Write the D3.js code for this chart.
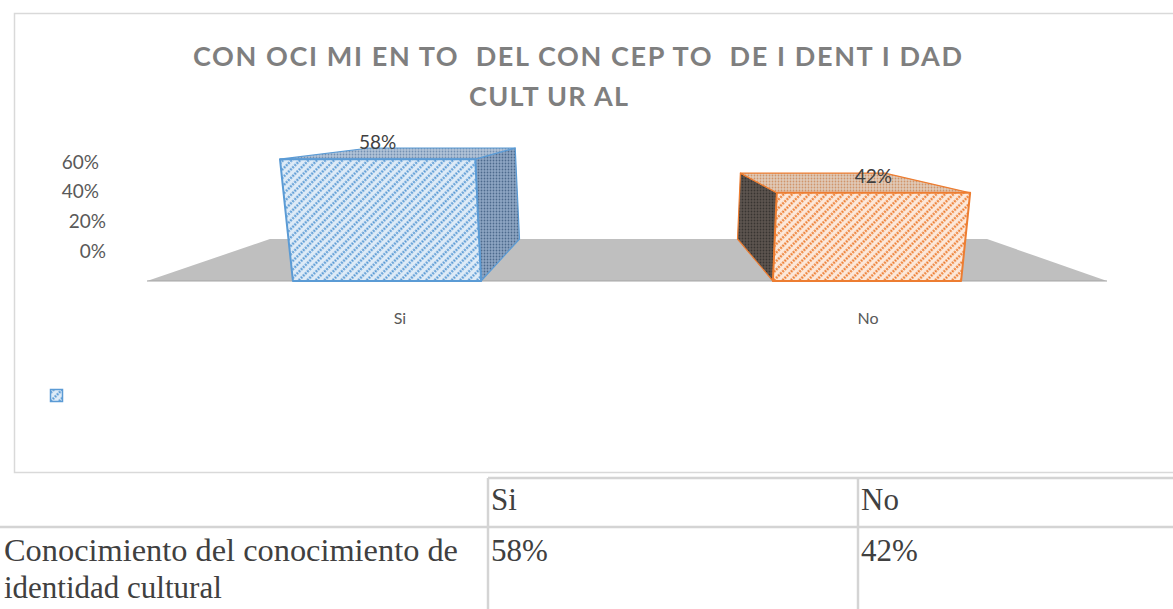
<!DOCTYPE html>
<html>
<head>
<meta charset="utf-8">
<title>Conocimiento del concepto de identidad cultural</title>
<script src="https://cdn.jsdelivr.net/npm/d3@7"></script>
<style>
  body { margin: 0; background: #fff; }
  svg { display: block; }
  .title { font-family: Lato, "Open Sans", sans-serif; font-weight: bold; fill: #7f7f7f; white-space: pre; }
  .lbl { font-family: Lato, "Open Sans", sans-serif; fill: #595959; }
  .val { font-family: Lato, "Open Sans", sans-serif; fill: #404040; }
  .tbl { font-family: "Liberation Serif", "Times New Roman", serif; fill: #404040; }
</style>
</head>
<body>
<svg width="1173" height="609"></svg>
<script>
// datos
var categories = ["Si", "No"];
var values = [0.58, 0.42];
var valueLabels = ["58%", "42%"];
var yTicks = [0, 0.2, 0.4, 0.6];
var titleLines = ["CON OCI MI EN TO  DEL CON CEP TO  DE I DENT I DAD", "CULT UR AL"];
var tableHeader = ["", "Si", "No"];
var rowLabel = ["Conocimiento del conocimiento de", "identidad cultural"];
var rowValues = ["58%", "42%"];

var svg = d3.select("svg");
var defs = svg.append("defs");

// patrones de relleno
function stripes(id, bg, fg) {
  var p = defs.append("pattern").attr("id", id)
    .attr("patternUnits", "userSpaceOnUse")
    .attr("width", 6).attr("height", 6)
    .attr("patternTransform", "rotate(45)");
  p.append("rect").attr("width", 6).attr("height", 6).attr("fill", bg);
  p.append("line").attr("x1", 1.5).attr("y1", 0).attr("x2", 1.5).attr("y2", 6)
    .attr("stroke", fg).attr("stroke-width", 2.2).attr("stroke-dasharray", "2 1");
}
function dots(id, bg, fg) {
  var p = defs.append("pattern").attr("id", id)
    .attr("patternUnits", "userSpaceOnUse")
    .attr("width", 3).attr("height", 3);
  p.append("rect").attr("width", 3).attr("height", 3).attr("fill", bg);
  p.append("circle").attr("cx", 1.5).attr("cy", 1.5).attr("r", 0.9).attr("fill", fg);
}
stripes("blueFront", "#deebf7", "#5b9bd5");
stripes("orangeFront", "#fce8da", "#ed7d31");
dots("blueSide", "#8ea6c3", "#4d6a8d");
dots("blueTop", "#b2c3d8", "#7490b1");
dots("orangeSide", "#5d5550", "#383431");
dots("orangeTop", "#e0cbb9", "#d0946a");

var styles = {
  Si: {front: "url(#blueFront)", side: "url(#blueSide)", top: "url(#blueTop)", line: "#5b9bd5"},
  No: {front: "url(#orangeFront)", side: "url(#orangeSide)", top: "url(#orangeTop)", line: "#ed7d31"}
};

// marco del grafico
svg.append("rect").attr("x", 14.5).attr("y", 13.5).attr("width", 1200).attr("height", 459)
  .attr("fill", "#fff").attr("stroke", "#d9d9d9").attr("stroke-width", 1.5);

// titulo
svg.selectAll(".title").data(titleLines).enter().append("text")
  .attr("class", "title")
  .attr("x", function(d, i) { return i === 0 ? 193 : 469; })
  .attr("y", function(d, i) { return 57 + i * 40; })
  .attr("dy", "0.35em")
  .attr("font-size", 27)
  .attr("textLength", function(d, i) { return i === 0 ? 769 : 159; })
  .attr("lengthAdjust", "spacing")
  .text(function(d) { return d; });

// perspectiva
var floorY = 281,
    vp = {x: 633, y: 115},   // punto de fuga horizontal
    depth = 0.747,           // escala del fondo
    vDist = 3200;            // distancia al punto de fuga vertical

var x = d3.scaleBand().domain(categories).range([147, 1107])
  .paddingInner(0.608).paddingOuter(0.304);
var h = d3.scaleLinear().domain([0, 0.6]).range([0, 126]);
var yLab = d3.scaleLinear().domain([0, 0.6]).range([251, 162]);
var xLab = d3.scalePoint().domain(categories).range([400, 868]);

function front(xb, hh) {
  return [vp.x + (xb - vp.x) * (vDist + hh) / vDist, floorY - hh];
}
function back(p) {
  return [vp.x + (p[0] - vp.x) * depth, vp.y + (p[1] - vp.y) * depth];
}
var line = d3.line();

// piso
var fl = front(x.range()[0], 0), fr = front(x.range()[1], 0);
svg.append("path").attr("d", line([fl, fr, back(fr), back(fl)]) + "Z")
  .attr("fill", "#bfbfbf");
svg.append("path").attr("d", line([fl, fr])).attr("stroke", "#a6a6a6").attr("stroke-width", 1.2);

// etiquetas del eje
svg.selectAll(".ytick").data(yTicks).enter().append("text")
  .attr("class", "lbl ytick")
  .attr("x", function(d) { return d < 0.3 ? 106 : 99; })
  .attr("y", function(d) { return yLab(d); })
  .attr("dy", "0.35em").attr("text-anchor", "end").attr("font-size", 19)
  .text(function(d) { return d3.format(".0%")(d); });

// barras
var bars = svg.selectAll(".bar").data(categories).enter().append("g").attr("class", "bar");
bars.each(function(c, i) {
  var g = d3.select(this), st = styles[c];
  var x0 = x(c), x1 = x(c) + x.bandwidth(), hh = h(values[i]);
  var L0 = front(x0, 0), R0 = front(x1, 0), L1 = front(x0, hh), R1 = front(x1, hh);
  var side = x1 < vp.x ? [R0, R1, back(R1), back(R0)] : [L0, L1, back(L1), back(L0)];
  g.append("path").attr("d", line(side) + "Z").attr("fill", st.side)
    .attr("stroke", st.line).attr("stroke-width", 1.2).attr("stroke-linejoin", "round");
  g.append("path").attr("d", line([L1, R1, back(R1), back(L1)]) + "Z").attr("fill", st.top)
    .attr("stroke", st.line).attr("stroke-width", 1.2).attr("stroke-linejoin", "round");
  g.append("path").attr("d", line([L0, R0, R1, L1]) + "Z").attr("fill", st.front)
    .attr("stroke", st.line).attr("stroke-width", 2).attr("stroke-linejoin", "round");
  g.append("text").attr("class", "val")
    .attr("x", (L1[0] + R1[0]) / 2).attr("y", L1[1] - 10)
    .attr("text-anchor", "middle").attr("font-size", 19)
    .text(valueLabels[i]);
});

// categorias
svg.selectAll(".cat").data(categories).enter().append("text")
  .attr("class", "lbl cat")
  .attr("x", function(d) { return xLab(d); }).attr("y", 318)
  .attr("dy", "0.35em").attr("text-anchor", "middle").attr("font-size", 16)
  .text(function(d) { return d; });

// leyenda
svg.append("rect").attr("x", 50.5).attr("y", 389.5).attr("width", 12).attr("height", 12)
  .attr("fill", "url(#blueFront)").attr("stroke", "#5b9bd5").attr("stroke-width", 1.5);

// tabla
var colX = [0, 488, 858], tableTop = 478, rowLine = 527, lineH = 37;
var tg = svg.append("g");
tg.append("line").attr("x1", colX[1]).attr("x2", 1173).attr("y1", tableTop).attr("y2", tableTop)
  .attr("stroke", "#d4d4d4").attr("stroke-width", 2.5);
tg.append("line").attr("x1", 0).attr("x2", 1173).attr("y1", rowLine).attr("y2", rowLine)
  .attr("stroke", "#d4d4d4").attr("stroke-width", 2.5);
tg.selectAll(".vline").data(colX.slice(1)).enter().append("line")
  .attr("x1", function(d) { return d; }).attr("x2", function(d) { return d; })
  .attr("y1", tableTop).attr("y2", 609)
  .attr("stroke", "#d4d4d4").attr("stroke-width", 2.5);
tg.selectAll(".th").data(tableHeader).enter().append("text")
  .attr("class", "tbl th")
  .attr("x", function(d, i) { return colX[i] + 3; }).attr("y", 499)
  .attr("dy", "0.35em").attr("font-size", 31)
  .text(function(d) { return d; });
tg.selectAll(".rl").data(rowLabel).enter().append("text")
  .attr("class", "tbl rl")
  .attr("x", 4).attr("y", function(d, i) { return 550 + i * lineH; })
  .attr("dy", "0.35em").attr("font-size", 31)
  .attr("textLength", function(d, i) { return i === 0 ? 454 : null; })
  .attr("lengthAdjust", "spacingAndGlyphs")
  .text(function(d) { return d; });
tg.selectAll(".td").data(rowValues).enter().append("text")
  .attr("class", "tbl td")
  .attr("x", function(d, i) { return colX[i + 1] + 3; }).attr("y", 550)
  .attr("dy", "0.35em").attr("font-size", 31)
  .text(function(d) { return d; });
</script>
</body>
</html>
